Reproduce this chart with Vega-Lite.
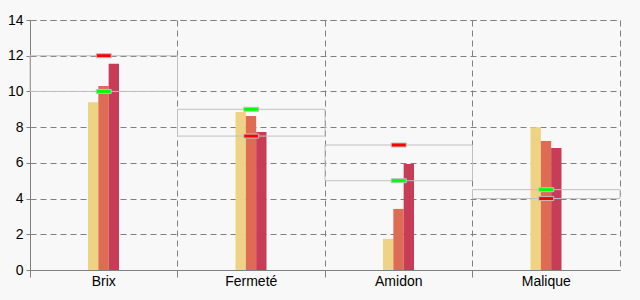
{
  "$schema": "https://vega.github.io/schema/vega-lite/v6.json",
  "width": 590,
  "height": 250,
  "autosize": "none",
  "padding": {"left": 30, "top": 20, "right": 20, "bottom": 30},
  "background": "#f8f8f8",
  "config": {
    "view": {"stroke": "#808080", "strokeDash": [6, 4], "strokeWidth": 1, "fill": "#f8f8f8"},
    "axis": {
      "labelFont": "Liberation Sans",
      "labelFontSize": 14,
      "labelColor": "#000000",
      "labelOverlap": false,
      "domainColor": "#808080",
      "tickColor": "#808080",
      "gridColor": "#808080",
      "gridDash": [6, 4],
      "gridOpacity": 1,
      "title": null
    }
  },
  "datasets": {
    "bars": [
      {"cat": "Brix", "serie": "A", "value": 9.4},
      {"cat": "Brix", "serie": "B", "value": 10.3},
      {"cat": "Brix", "serie": "C", "value": 11.55},
      {"cat": "Fermeté", "serie": "A", "value": 8.85},
      {"cat": "Fermeté", "serie": "B", "value": 8.62},
      {"cat": "Fermeté", "serie": "C", "value": 7.73},
      {"cat": "Amidon", "serie": "A", "value": 1.74},
      {"cat": "Amidon", "serie": "B", "value": 3.42},
      {"cat": "Amidon", "serie": "C", "value": 5.94},
      {"cat": "Malique", "serie": "A", "value": 8.0},
      {"cat": "Malique", "serie": "B", "value": 7.22},
      {"cat": "Malique", "serie": "C", "value": 6.83}
    ],
    "ranges": [
      {"cat": "Brix", "lo": 10, "hi": 12, "green": 10, "red": 12},
      {"cat": "Fermeté", "lo": 7.5, "hi": 9, "green": 9, "red": 7.5},
      {"cat": "Amidon", "lo": 5, "hi": 7, "green": 5, "red": 7},
      {"cat": "Malique", "lo": 4, "hi": 4.5, "green": 4.5, "red": 4}
    ]
  },
  "layer": [
    {
      "data": {"name": "bars"},
      "mark": {"type": "bar"},
      "encoding": {
        "x": {
          "field": "cat", "type": "nominal",
          "sort": ["Brix", "Fermeté", "Amidon", "Malique"],
          "scale": {"paddingInner": 0, "paddingOuter": 0},
          "axis": {"bandPosition": 0, "grid": true, "labelAngle": 0, "tickSize": 7, "labelPadding": -3, "labelBound": false}
        },
        "xOffset": {
          "field": "serie", "type": "nominal",
          "scale": {"range": [58, 89], "paddingInner": 0, "paddingOuter": 0}
        },
        "y": {
          "field": "value", "type": "quantitative",
          "scale": {"domain": [0, 14], "nice": false},
          "axis": {"values": [0, 2, 4, 6, 8, 10, 12, 14], "labelOverlap": false, "grid": true, "tickSize": 4, "labelPadding": 3}
        },
        "color": {
          "field": "serie", "type": "nominal",
          "scale": {"domain": ["A", "B", "C"], "range": ["#EED384", "#DE6C55", "#C73D58"]},
          "legend": null
        }
      }
    },
    {
      "data": {"name": "ranges"},
      "mark": {"type": "rect", "fill": "transparent", "stroke": "#c0c0c0", "strokeWidth": 1},
      "encoding": {
        "x": {"field": "cat", "type": "nominal", "sort": ["Brix", "Fermeté", "Amidon", "Malique"],
          "axis": {"bandPosition": 0, "grid": true, "labelAngle": 0, "tickSize": 7, "labelPadding": -3, "labelBound": false}},
        "y": {"field": "lo", "type": "quantitative",
          "axis": {"values": [0, 2, 4, 6, 8, 10, 12, 14], "labelOverlap": false, "grid": true, "tickSize": 4, "labelPadding": 3}},
        "y2": {"field": "hi"}
      }
    },
    {
      "data": {"name": "ranges"},
      "mark": {"type": "tick", "orient": "horizontal", "thickness": 4, "size": 15, "color": "#00ff00", "stroke": "#c0c0c0", "strokeWidth": 1, "opacity": 1, "strokeOpacity": 1, "fillOpacity": 1},
      "encoding": {
        "x": {"field": "cat", "type": "nominal", "sort": ["Brix", "Fermeté", "Amidon", "Malique"],
          "axis": {"bandPosition": 0, "grid": true, "labelAngle": 0, "tickSize": 7, "labelPadding": -3, "labelBound": false}},
        "y": {"field": "green", "type": "quantitative",
          "axis": {"values": [0, 2, 4, 6, 8, 10, 12, 14], "labelOverlap": false, "grid": true, "tickSize": 4, "labelPadding": 3}}
      }
    },
    {
      "data": {"name": "ranges"},
      "mark": {"type": "tick", "orient": "horizontal", "thickness": 4, "size": 15, "color": "#ff0000", "stroke": "#c0c0c0", "strokeWidth": 1, "opacity": 1, "strokeOpacity": 1, "fillOpacity": 1},
      "encoding": {
        "x": {"field": "cat", "type": "nominal", "sort": ["Brix", "Fermeté", "Amidon", "Malique"],
          "axis": {"bandPosition": 0, "grid": true, "labelAngle": 0, "tickSize": 7, "labelPadding": -3, "labelBound": false}},
        "y": {"field": "red", "type": "quantitative",
          "axis": {"values": [0, 2, 4, 6, 8, 10, 12, 14], "labelOverlap": false, "grid": true, "tickSize": 4, "labelPadding": 3}}
      }
    }
  ]
}
